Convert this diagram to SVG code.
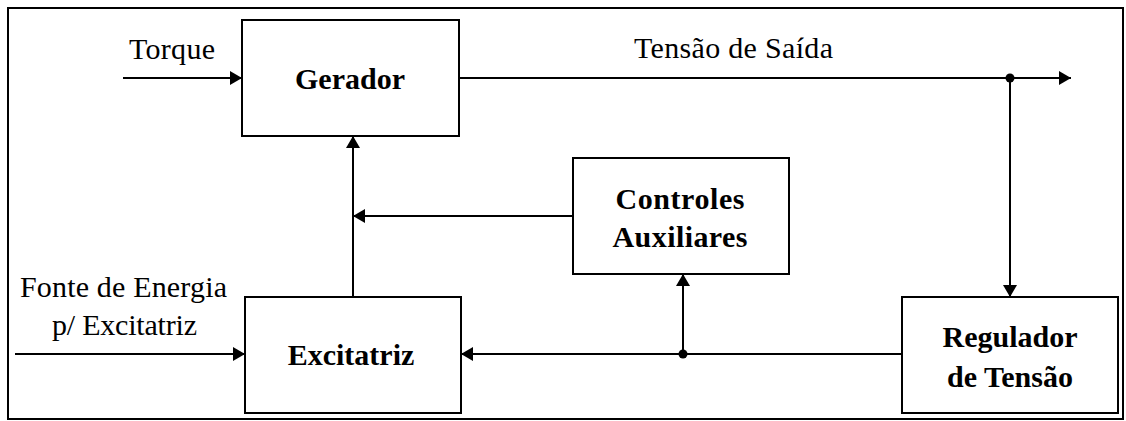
<svg xmlns="http://www.w3.org/2000/svg" width="1126" height="421" viewBox="0 0 1126 421">
  <style>
    .box { fill: #ffffff; stroke: #000000; stroke-width: 2; }
    .wire { fill: none; stroke: #000000; stroke-width: 2; }
    .dot { fill: #000000; }
  </style>
  <defs>
    <marker id="arr" viewBox="0 0 12 14" refX="12" refY="7" markerWidth="12" markerHeight="14" orient="auto" markerUnits="userSpaceOnUse">
      <path d="M0,0 L12,7 L0,14 Z" fill="#000000"/>
    </marker>
  </defs>
  <rect x="0" y="0" width="1126" height="421" fill="#ffffff"/>
  <rect x="8" y="8" width="1115" height="411" fill="none" stroke="#000000" stroke-width="2"/>

  <g id="connectors">
    <path class="wire" d="M123,78 H242" marker-end="url(#arr)"/>
    <path class="wire" d="M459,78 H1071" marker-end="url(#arr)"/>
    <path class="wire" d="M1010,78 V297" marker-end="url(#arr)"/>
    <path class="wire" d="M902,354 H461" marker-end="url(#arr)"/>
    <path class="wire" d="M683,354 V274" marker-end="url(#arr)"/>
    <path class="wire" d="M573,216 H353" marker-end="url(#arr)"/>
    <path class="wire" d="M353,297 V136" marker-end="url(#arr)"/>
    <path class="wire" d="M15,354 H245" marker-end="url(#arr)"/>
    <circle class="dot" cx="1010" cy="78" r="4.5"/>
    <circle class="dot" cx="683" cy="354" r="4.5"/>
    <text x="129" y="59" font-family="Liberation Serif, serif" font-size="30" textLength="86">Torque</text>
    <text x="634" y="58" font-family="Liberation Serif, serif" font-size="30" textLength="199">Tensão de Saída</text>
    <text x="20" y="297" font-family="Liberation Serif, serif" font-size="30" textLength="207">Fonte de Energia</text>
    <text x="52" y="335" font-family="Liberation Serif, serif" font-size="30" textLength="145">p/ Excitatriz</text>
  </g>

  <g id="gerador">
    <rect class="box" x="242" y="20" width="217" height="116"/>
    <text x="350" y="89" font-family="Liberation Serif, serif" font-size="30" font-weight="bold" text-anchor="middle">Gerador</text>
  </g>

  <g id="controles">
    <rect class="box" x="573" y="158" width="216" height="116"/>
    <text x="680" y="209" font-family="Liberation Serif, serif" font-size="30" font-weight="bold" text-anchor="middle" textLength="129">Controles</text>
    <text x="680" y="247" font-family="Liberation Serif, serif" font-size="30" font-weight="bold" text-anchor="middle" textLength="135">Auxiliares</text>
  </g>

  <g id="excitatriz">
    <rect class="box" x="245" y="297" width="216" height="116"/>
    <text x="351" y="365" font-family="Liberation Serif, serif" font-size="30" font-weight="bold" text-anchor="middle">Excitatriz</text>
  </g>

  <g id="regulador">
    <rect class="box" x="902" y="297" width="216" height="116"/>
    <text x="1010" y="347" font-family="Liberation Serif, serif" font-size="30" font-weight="bold" text-anchor="middle">Regulador</text>
    <text x="1010" y="387" font-family="Liberation Serif, serif" font-size="30" font-weight="bold" text-anchor="middle">de Tensão</text>
  </g>
</svg>
